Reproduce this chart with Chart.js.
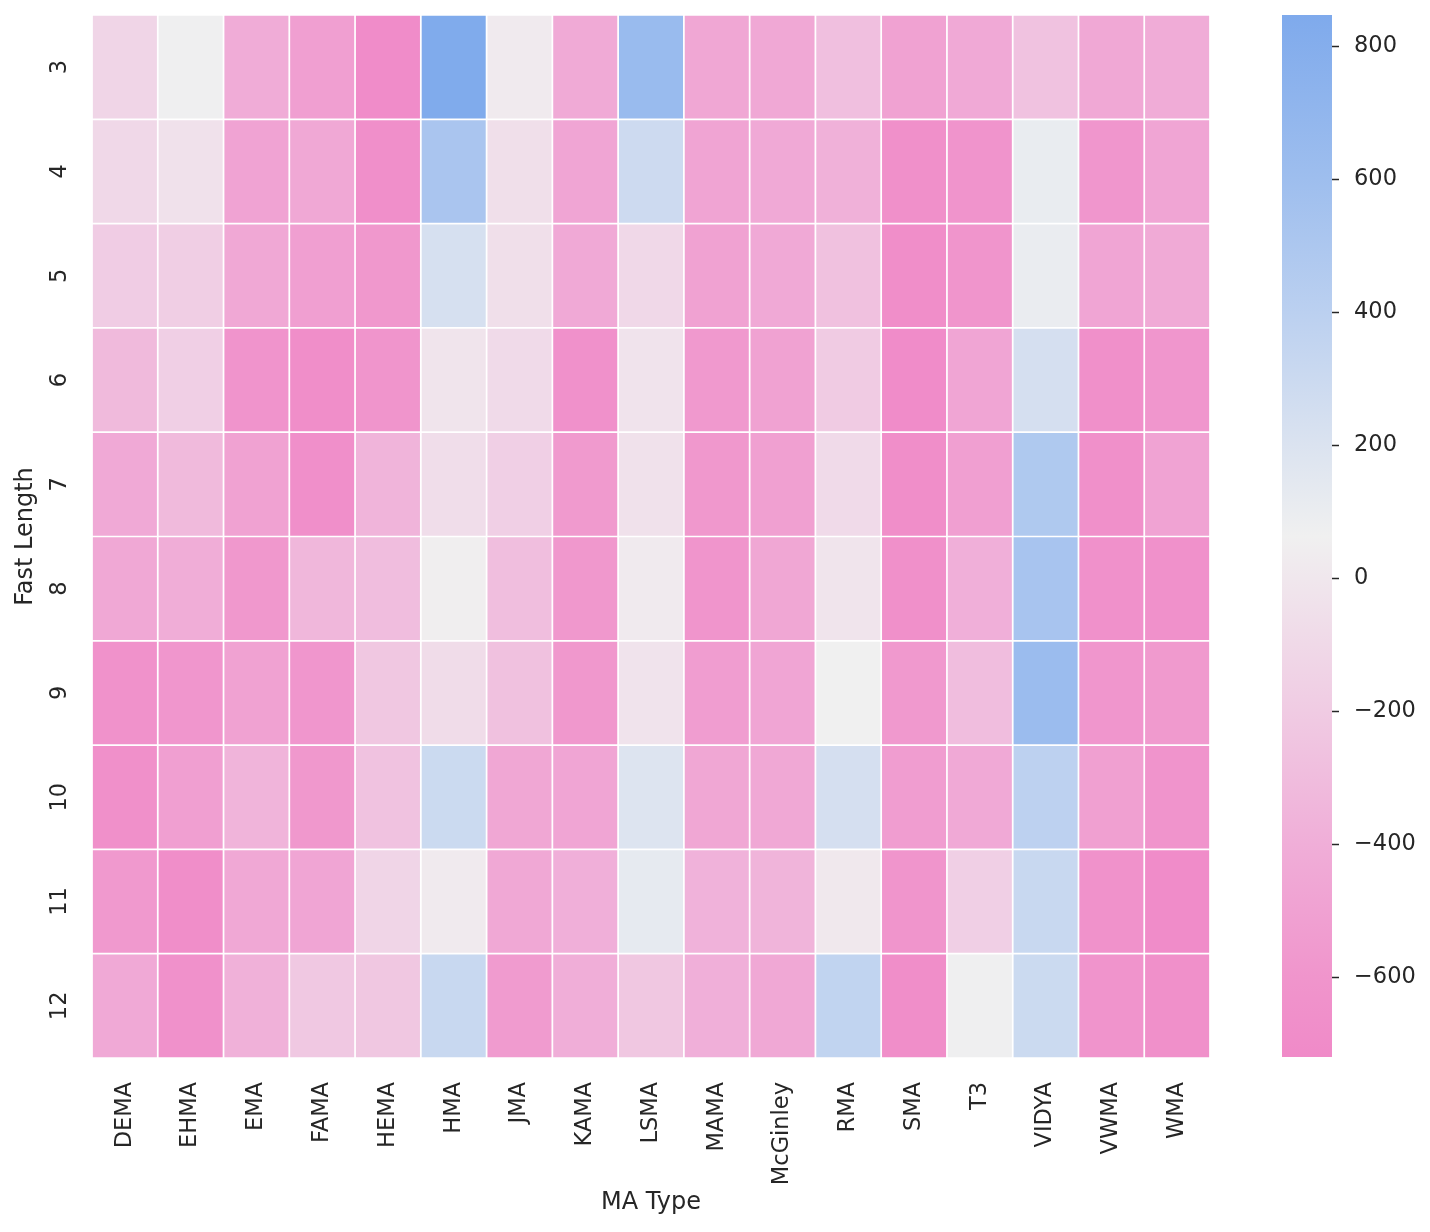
<!DOCTYPE html>
<html>
<head>
<meta charset="utf-8">
<script src="https://cdn.jsdelivr.net/npm/chart.js@4"></script>
<style>
  html, body { margin: 0; padding: 0; background: #fff; }
  #wrap { position: relative; width: 1430px; height: 1232px; }
  #heatmap { position: absolute; left: 0; top: 0; }
  #colorbar { position: absolute; left: 1240px; top: 0; }
</style>
</head>
<body>
<div id="wrap">
  <canvas id="heatmap" width="1240" height="1232"></canvas>
  <canvas id="colorbar" width="190" height="1232"></canvas>
</div>
<script>
const MA_TYPES = ['DEMA', 'EHMA', 'EMA', 'FAMA', 'HEMA', 'HMA', 'JMA', 'KAMA', 'LSMA', 'MAMA',
                  'McGinley', 'RMA', 'SMA', 'T3', 'VIDYA', 'VWMA', 'WMA'];
const FAST_LENGTHS = [3, 4, 5, 6, 7, 8, 9, 10, 11, 12];

// one array per fast length, in MA_TYPES order
const fast3  = [-130,   70, -420, -520, -700,  840,   20, -430,  640, -460, -450, -280, -500, -440, -260, -450, -420];
const fast4  = [-110,  -40, -490, -450, -670,  520,  -60, -470,  290, -480, -440, -380, -660, -610,  110, -590, -470];
const fast5  = [-190, -180, -450, -520, -580,  230,  -60, -440, -110, -500, -440, -270, -680, -600,  100, -470, -430];
const fast6  = [-320, -170, -610, -680, -600,  -20,  -90, -640,  -30, -570, -500, -200, -700, -470,  240, -650, -590];
const fast7  = [-440, -320, -500, -670, -360,  -70, -170, -560,  -40, -580, -510,  -90, -680, -520,  480, -660, -490];
const fast8  = [-450, -410, -580, -340, -300,   50, -290, -580,   20, -600, -460,  -20, -660, -390,  530, -640, -640];
const fast9  = [-630, -590, -500, -590, -230,  -80, -270, -580,  -30, -540, -470,   60, -570, -300,  620, -590, -560];
const fast10 = [-660, -520, -360, -580, -260,  300, -460, -470,  190, -460, -450,  240, -540, -440,  390, -510, -610];
const fast11 = [-570, -680, -450, -470, -130,   20, -450, -390,  130, -370, -360,   10, -600, -170,  320, -630, -700];
const fast12 = [-440, -640, -380, -220, -230,  320, -550, -400, -230, -390, -450,  360, -680,   70,  300, -610, -650];
const ROWS = [fast3, fast4, fast5, fast6, fast7, fast8, fast9, fast10, fast11, fast12];

const V_MIN = -720;
const V_MAX = 847;
const COLORBAR_TICKS = [-600, -400, -200, 0, 200, 400, 600, 800];

// diverging pink -> light grey -> blue
const COLOR_STOPS = [
    [-720, [240, 138, 200]],
    [-600, [240, 149, 204]],
    [-400, [240, 174, 216]],
    [-200, [240, 203, 227]],
    [0,    [240, 231, 237]],
    [63,   [240, 240, 240]],
    [200,  [219, 227, 240]],
    [400,  [187, 208, 240]],
    [600,  [158, 190, 238]],
    [847,  [127, 170, 236]]
];

function valueColor(v) {
    v = Math.max(V_MIN, Math.min(V_MAX, v));
    for (let i = 1; i < COLOR_STOPS.length; i++) {
        const [v1, c1] = COLOR_STOPS[i];
        const [v0, c0] = COLOR_STOPS[i - 1];
        if (v <= v1) {
            const t = (v - v0) / (v1 - v0);
            const c = c0.map((x, k) => Math.round(x + (c1[k] - x) * t));
            return `rgb(${c[0]}, ${c[1]}, ${c[2]})`;
        }
    }
    return `rgb(${COLOR_STOPS[COLOR_STOPS.length - 1][1].join(',')})`;
}

// stop the axes from pushing the plot area in for their edge labels
function noEdgePadding(scale) {
    scale.paddingTop = 0;
    scale.paddingBottom = 0;
    scale.paddingLeft = 0;
    scale.paddingRight = 0;
}

const TEXT = '#262626';
Chart.defaults.font.family = "'DejaVu Sans', sans-serif";
Chart.defaults.font.size = 22.5;
Chart.defaults.color = TEXT;
Chart.defaults.animation = false;

new Chart(document.getElementById('heatmap').getContext('2d'), {
    type: 'bar',
    data: {
        labels: MA_TYPES,
        datasets: FAST_LENGTHS.map((len, i) => ({
            label: String(len),
            data: MA_TYPES.map(() => [i, i + 1]),
            backgroundColor: ROWS[i].map(valueColor),
            borderColor: '#ffffff',
            borderWidth: 1.2,
            borderSkipped: false,
            grouped: false,
            barPercentage: 1,
            categoryPercentage: 1
        }))
    },
    options: {
        responsive: false,
        layout: { padding: { top: 15, right: 30, left: 0, bottom: 0 } },
        plugins: {
            legend: { display: false },
            tooltip: { enabled: false }
        },
        scales: {
            x: {
                grid: { display: false, drawTicks: false },
                border: { display: false },
                ticks: { minRotation: 90, maxRotation: 90, padding: 24, autoSkip: false },
                title: { display: true, text: 'MA Type', font: { size: 24 }, padding: { bottom: 15 } },
                afterFit: (scale) => { scale.height = 174; noEdgePadding(scale); }
            },
            y: {
                min: 0,
                max: FAST_LENGTHS.length,
                reverse: true,
                grid: { display: false, drawTicks: false },
                border: { display: false },
                afterBuildTicks: (axis) => {
                    axis.ticks = FAST_LENGTHS.map((_, i) => ({ value: i + 0.5 }));
                },
                ticks: {
                    minRotation: 90,
                    maxRotation: 90,
                    crossAlign: 'center',
                    padding: 18,
                    autoSkip: false,
                    callback: (value, index) => String(FAST_LENGTHS[index])
                },
                title: { display: true, text: 'Fast Length', font: { size: 24 }, padding: { top: 11 } },
                afterFit: (scale) => { scale.width = 92; noEdgePadding(scale); }
            }
        }
    }
});

new Chart(document.getElementById('colorbar').getContext('2d'), {
    type: 'bar',
    data: {
        labels: [''],
        datasets: [{
            data: [[V_MIN, V_MAX]],
            backgroundColor: (ctx) => {
                const chart = ctx.chart;
                if (!chart.chartArea) return null;
                const y = chart.scales.y;
                const g = chart.ctx.createLinearGradient(0, y.getPixelForValue(V_MIN), 0, y.getPixelForValue(V_MAX));
                COLOR_STOPS.forEach(([v, c]) => {
                    g.addColorStop((v - V_MIN) / (V_MAX - V_MIN), `rgb(${c[0]}, ${c[1]}, ${c[2]})`);
                });
                return g;
            },
            borderWidth: 0,
            barPercentage: 1,
            categoryPercentage: 1
        }]
    },
    options: {
        responsive: false,
        layout: { padding: { top: 15, left: 42, right: 0, bottom: 175 } },
        plugins: {
            legend: { display: false },
            tooltip: { enabled: false }
        },
        scales: {
            x: { display: false },
            y: {
                position: 'right',
                min: V_MIN,
                max: V_MAX,
                border: { display: false },
                grid: {
                    drawOnChartArea: false,
                    drawTicks: true,
                    tickLength: 7,
                    tickWidth: 1.5,
                    tickColor: TEXT
                },
                afterBuildTicks: (axis) => {
                    axis.ticks = COLORBAR_TICKS.map(v => ({ value: v }));
                },
                ticks: {
                    padding: 15,
                    autoSkip: false,
                    callback: (v) => v < 0 ? '\u2212' + Math.abs(v) : String(v)
                },
                afterFit: (scale) => { scale.width = 98; noEdgePadding(scale); }
            }
        }
    }
});
</script>
</body>
</html>
